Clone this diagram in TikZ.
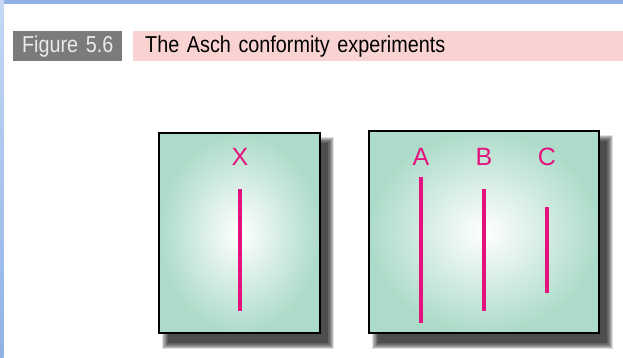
\documentclass[tikz,border=0pt]{standalone}
\usepackage{fontspec}
\setmainfont{Liberation Sans}
\newfontfamily\headfont[FakeStretch=0.86, WordSpace=0.8]{Liberation Sans}
\usepackage{tikz}
\usetikzlibrary{positioning,calc}
\definecolor{slideBlue}{HTML}{8FB2E6}
\definecolor{slideBlueLight}{HTML}{C4D8F5}
\definecolor{headGray}{HTML}{7B7B7D}
\definecolor{headPink}{HTML}{F8D3D2}
\definecolor{cardTeal}{HTML}{ADDBC9}
\definecolor{lineMagenta}{HTML}{E3127F}
\tikzset{
  headbox/.style={anchor=north west, inner sep=0pt, minimum height=30pt, font=\headfont\fontsize{23}{25}\selectfont},
  cardbox/.style={draw=black, line width=1.6pt, inner color=white, outer color=cardTeal},
  cardlabel/.style={text=lineMagenta, font=\fontsize{25}{27}\selectfont, inner sep=0pt},
  stimline/.style={draw=lineMagenta, line width=4pt}
}
\newcommand{\cardshadow}[2]{%
  \foreach \s in {0,1,...,9} {
    \fill[black, opacity=0.11] ($(#1)+(3+0.7*\s,4+0.7*\s)$) rectangle ($(#2)+(14-0.7*\s,16-0.7*\s)$);
  }%
}
\begin{document}
\begin{tikzpicture}[x=1pt, y=-1pt]
  \useasboundingbox (0,0) rectangle (623,358);
  \fill[white] (0,0) rectangle (623,358);
  % slide frame
  \fill[slideBlue] (0,0) rectangle (623,4);
  \shade[top color=slideBlueLight, bottom color=slideBlue] (0,0) rectangle (3.5,358);

  % header
  \node[headbox, fill=headGray, text=white!92!black, minimum width=109pt, text width=109pt, align=center] (fig) at (13,31) {Figure 5.6};
  \node[headbox, fill=headPink, text=black, minimum width=490pt, text width=482pt, align=left] (title) at (133,31) {\hspace*{8pt}The Asch conformity experiments};

  % standard card
  \coordinate (xtl) at (159,133);
  \coordinate (xbr) at (320,333);
  \cardshadow{xtl}{xbr}
  \path[cardbox] (xtl) rectangle (xbr);
  \node[cardlabel] (labX) at (240,157) {X};
  \coordinate (x1) at (240,189);
  \coordinate (x2) at (240,311);
  \draw[stimline] (x1) -- (x2);

  % comparison card
  \coordinate (ctl) at (369,131);
  \coordinate (cbr) at (599,333);
  \cardshadow{ctl}{cbr}
  \path[cardbox] (ctl) rectangle (cbr);
  \node[cardlabel] (labA) at (421,157) {A};
  \node[cardlabel] (labB) at (484,157) {B};
  \node[cardlabel] (labC) at (547,157) {C};
  \coordinate (a1) at (421,177);
  \coordinate (a2) at (421,323);
  \coordinate (b1) at (484,189);
  \coordinate (b2) at (484,311);
  \coordinate (c1) at (547,207);
  \coordinate (c2) at (547,293);
  \draw[stimline] (a1) -- (a2);
  \draw[stimline] (b1) -- (b2);
  \draw[stimline] (c1) -- (c2);
\end{tikzpicture}
\end{document}
